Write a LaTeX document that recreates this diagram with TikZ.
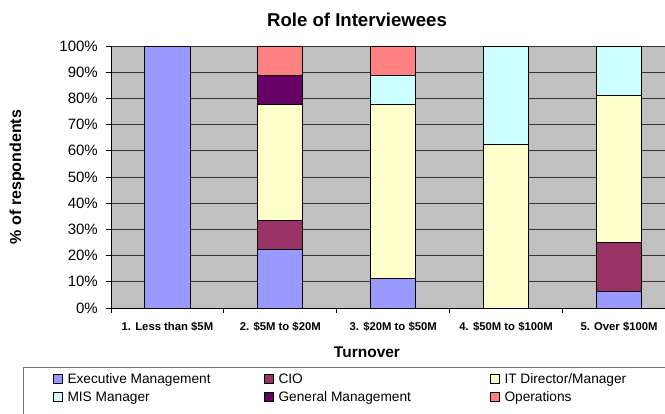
\documentclass[tikz,border=0pt]{standalone}
\usepackage{fontspec}
\setmainfont{Liberation Sans}
\usetikzlibrary{positioning}

\definecolor{execcol}{HTML}{9999FF}
\definecolor{ciocol}{HTML}{993366}
\definecolor{itcol}{HTML}{FFFFCC}
\definecolor{miscol}{HTML}{CCFFFF}
\definecolor{gencol}{HTML}{660066}
\definecolor{opscol}{HTML}{FF8080}
\definecolor{plotgray}{HTML}{C0C0C0}

\tikzset{
  bar/.style={draw=black, line width=0.9pt},
  gridline/.style={draw=black!80, line width=0.9pt},
  ticklabel/.style={font=\fontsize{15}{15}\selectfont, anchor=east, inner sep=0pt},
  catlabel/.style={font=\bfseries\fontsize{11.3}{12}\selectfont, anchor=base, inner sep=0pt},
  legmark/.style={draw=black, line width=0.6pt, minimum size=9pt, inner sep=0pt},
  legtext/.style={font=\fontsize{13.7}{14}\selectfont, inner sep=0pt, text height=9.6pt, text depth=0pt},
}

\begin{document}
\begin{tikzpicture}[x=1pt,y=1pt]
\useasboundingbox (0,0) rectangle (665,414);
\clip (0,0) rectangle (665,414);

\node[font=\bfseries\fontsize{18.6}{19}\selectfont, anchor=base, inner sep=0pt] (title) at (357,387) {Role of Interviewees};

\begin{scope}[shift={(111,106)}, x=112.9pt, y=2.62pt]
\fill[plotgray] (0,0) rectangle (5,100);
\foreach \g in {10,20,...,100}
  \draw[gridline] (0,\g) -- (5,\g);

% 1. less than 5M
\draw[bar, fill=execcol] (0.3,0) rectangle (0.7,100);
% 2. 5M to 20M
\draw[bar, fill=execcol] (1.3,0) rectangle (1.7,22.22);
\draw[bar, fill=ciocol]  (1.3,22.22) rectangle (1.7,33.33);
\draw[bar, fill=itcol]   (1.3,33.33) rectangle (1.7,77.78);
\draw[bar, fill=gencol]  (1.3,77.78) rectangle (1.7,88.89);
\draw[bar, fill=opscol]  (1.3,88.89) rectangle (1.7,100);
% 3. 20M to 50M
\draw[bar, fill=execcol] (2.3,0) rectangle (2.7,11.11);
\draw[bar, fill=itcol]   (2.3,11.11) rectangle (2.7,77.78);
\draw[bar, fill=miscol]  (2.3,77.78) rectangle (2.7,88.89);
\draw[bar, fill=opscol]  (2.3,88.89) rectangle (2.7,100);
% 4. 50M to 100M
\draw[bar, fill=itcol]   (3.3,0) rectangle (3.7,62.5);
\draw[bar, fill=miscol]  (3.3,62.5) rectangle (3.7,100);
% 5. over 100M
\draw[bar, fill=execcol] (4.3,0) rectangle (4.7,6.25);
\draw[bar, fill=ciocol]  (4.3,6.25) rectangle (4.7,25);
\draw[bar, fill=itcol]   (4.3,25) rectangle (4.7,81.25);
\draw[bar, fill=miscol]  (4.3,81.25) rectangle (4.7,100);

\draw[black, line width=0.9pt] (0,100) -- (0,0) -- (5,0);
\foreach \g in {0,10,...,100} {
  \draw[black, line width=0.9pt] (0,\g) -- ++(-5pt,0);
  \node[ticklabel] (tick\g) at ([xshift=-13pt]0,\g) {\g\%};
}
\foreach \c in {0,1,...,5}
  \draw[black, line width=0.9pt] (\c,0) -- ++(0,-5pt);

\node[catlabel] (cat1) at ([yshift=-23pt]0.5,0) {1. Less than \$5M};
\node[catlabel] (cat2) at ([yshift=-23pt]1.5,0) {2. \$5M to \$20M};
\node[catlabel] (cat3) at ([yshift=-23pt]2.5,0) {3. \$20M to \$50M};
\node[catlabel] (cat4) at ([yshift=-23pt]3.5,0) {4. \$50M to \$100M};
\node[catlabel] (cat5) at ([yshift=-23pt]4.5,0) {5. Over \$100M};
\end{scope}

\node[font=\bfseries\fontsize{15.5}{16}\selectfont, anchor=base, inner sep=0pt] (xlabel) at (367,56) {Turnover};
\node[font=\bfseries\fontsize{16}{16}\selectfont, rotate=90, inner sep=0pt] (ylabel) at (17,237) {\% of respondents};

% legend
\draw[draw=black!55, line width=0.8pt] (23,-5) rectangle (700,47);
\node[legmark, fill=execcol] (mexec) at (57.5,35) {};
\node[legtext, right=5pt of mexec] (texec) {Executive Management};
\node[legmark, fill=ciocol] (mcio) at (268.5,35) {};
\node[legtext, right=5pt of mcio] (tcio) {CIO};
\node[legmark, fill=itcol] (mit) at (494.5,35) {};
\node[legtext, right=5pt of mit] (tit) {IT Director/Manager};
\node[legmark, fill=miscol] (mmis) at (57.5,17.5) {};
\node[legtext, right=5pt of mmis] (tmis) {MIS Manager};
\node[legmark, fill=gencol] (mgen) at (268.5,17.5) {};
\node[legtext, right=5pt of mgen] (tgen) {General Management};
\node[legmark, fill=opscol] (mops) at (494.5,17.5) {};
\node[legtext, right=5pt of mops] (tops) {Operations};

\end{tikzpicture}
\end{document}
